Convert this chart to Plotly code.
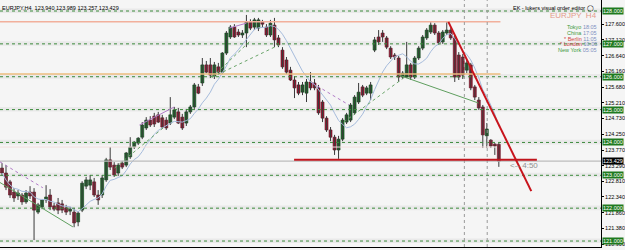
import plotly.graph_objects as go
import pandas as pd

header = "EURJPY,H4  123.940 123.989 123.257 123.429"

opens = [123.22,123.07,122.80,122.49,122.37,122.40,122.19,122.49,122.49,121.88,
         122.04,122.25,122.40,122.07,122.16,122.13,122.01,121.91,121.88,121.58,
         121.94,122.67,122.70,122.80,122.40,122.40,122.86,123.47,123.31,123.07,
         123.37,123.31,123.56,123.86,123.98,124.16,124.44,124.68,124.80,124.84,
         124.75,124.68,124.59,124.77,124.93,124.77,124.59,124.93,125.08,125.69,
         125.81,126.36,126.36,126.02,126.30,126.14,126.72,127.21,127.51,127.36,
         127.27,127.33,127.66,127.51,127.48,127.66,127.51,127.27,127.57,127.18,
         126.81,126.51,126.20,125.90,125.75,125.53,125.50,125.84,125.81,125.66,
         125.23,124.74,124.38,124.16,123.77,124.10,124.62,124.68,124.90,125.23,
         125.69,125.50,125.50,126.81,127.21,127.33,127.18,126.87,126.66,126.57,
         125.99,125.99,126.36,125.99,126.57,126.87,127.18,127.36,127.57,127.33,
         127.06,127.33,127.42,127.18,126.66,126.60,126.20,126.36,125.69,125.29,
         125.08,124.20,124.07,123.95,123.940]
highs = [123.37,123.31,122.86,122.61,122.55,122.46,122.55,122.67,122.61,122.16,
         122.28,122.70,122.58,122.16,122.31,122.25,122.10,122.04,122.01,121.91,
         122.82,122.95,123.01,122.92,122.55,123.01,123.53,123.86,123.40,123.37,
         123.44,123.71,124.16,124.04,124.16,124.62,124.77,124.80,124.90,124.93,
         124.84,124.77,125.38,125.08,125.05,124.87,125.02,125.14,125.81,125.78,
         126.57,126.48,126.57,126.45,126.42,126.75,127.39,127.57,127.60,127.45,
         127.42,127.88,127.75,127.79,127.79,127.73,127.60,127.73,127.79,127.27,
         126.90,126.60,126.30,126.02,125.84,125.84,125.93,126.14,125.93,125.75,
         125.29,124.80,124.47,124.23,124.20,124.74,124.90,125.20,125.44,125.81,
         125.75,125.72,125.84,127.21,127.42,127.42,127.24,126.93,126.72,126.63,
         126.17,127.06,126.42,126.63,126.93,127.27,127.48,127.66,127.63,127.39,
         127.42,127.66,127.48,127.27,126.75,126.69,126.51,126.42,125.75,125.38,
         125.14,124.59,124.10,123.98,123.989]
lows = [122.98,122.55,122.31,122.19,122.25,122.10,122.13,122.28,121.03,121.82,
        121.97,122.16,121.94,121.91,121.82,121.85,121.79,121.79,121.42,121.45,
        121.88,122.58,122.55,122.34,122.10,122.31,122.80,123.16,122.95,122.98,
        123.19,123.25,123.50,123.80,123.92,124.10,124.38,124.47,124.47,124.59,
        124.41,124.38,124.53,124.71,124.56,124.38,124.50,124.87,125.02,125.47,
        125.72,126.11,125.96,125.93,126.08,126.08,126.66,127.15,127.18,127.21,
        127.18,126.90,127.42,127.42,127.39,127.51,127.21,127.21,126.90,126.90,
        126.24,126.08,125.87,125.35,125.44,125.44,125.23,125.59,125.59,124.84,
        124.62,124.32,124.04,123.62,123.50,124.04,124.56,124.62,124.84,125.17,
        125.38,125.44,125.29,126.75,126.97,127.06,126.84,126.54,126.51,125.84,
        125.93,125.96,125.90,125.93,126.51,126.81,127.12,127.30,127.27,126.97,
        127.00,127.27,127.12,125.84,125.90,125.93,126.11,125.59,125.29,124.99,
        123.83,123.83,123.83,123.62,123.257]
closes = [123.07,122.64,122.40,122.31,122.46,122.19,122.46,122.37,121.94,122.10,
          122.25,122.34,122.04,121.97,121.94,121.94,121.88,121.97,121.55,121.85,
          122.76,122.86,122.86,122.40,122.25,122.92,123.47,123.25,123.01,123.31,
          123.25,123.68,123.86,124.01,124.13,124.53,124.68,124.53,124.56,124.62,
          124.47,124.44,124.84,124.99,124.59,124.44,124.93,125.08,125.75,125.50,
          126.36,126.14,126.05,126.36,126.14,126.72,127.33,127.51,127.21,127.27,
          127.33,127.66,127.48,127.73,127.73,127.60,127.27,127.63,127.12,126.97,
          126.30,126.14,125.90,125.66,125.50,125.75,125.84,125.66,125.66,124.90,
          124.74,124.38,124.16,123.77,124.10,124.68,124.84,125.14,125.38,125.53,
          125.44,125.66,125.75,127.12,127.06,127.21,126.90,126.60,126.60,125.99,
          126.11,126.36,125.99,126.57,126.87,127.21,127.42,127.57,127.33,127.03,
          127.36,127.42,127.18,125.99,125.99,126.05,126.42,125.66,125.38,125.05,
          124.23,124.41,123.89,123.89,123.429]

axis_ticks = [127.600,127.120,126.640,126.160,125.680,125.210,124.730,124.250,
              123.770,123.290,122.810,122.340,121.860,121.380,120.900]
round_levels = [128,127,126,125,124,123,122,121]
last_price = 123.429

sessions = [("Tokyo","18:05","#3f9a3f"),("China","17:05","#3f9a3f"),
            ("* Berlin","11:05","#d04040"),("* London","10:05","#d04040"),
            ("New York","05:05","#3f9a3f")]

n = len(closes)
idx = list(range(n))
ma = pd.Series(closes).rolling(8, min_periods=1).mean()

fig = go.Figure()

# wicks
wx, wy = [], []
for i in idx:
    wx += [i, i, None]
    wy += [lows[i], highs[i], None]
fig.add_trace(go.Scatter(x=wx, y=wy, mode="lines", line=dict(color="#3a3a3a", width=1),
                         hoverinfo="skip"))

for up in (True, False):
    xs, base, hgt = [], [], []
    for i in idx:
        if (closes[i] >= opens[i]) == up:
            xs.append(i)
            base.append(min(opens[i], closes[i]))
            hgt.append(max(abs(closes[i]-opens[i]), 0.03))
    fig.add_trace(go.Bar(x=xs, y=hgt, base=base, width=0.74,
                         marker=dict(color="#1f6b2c" if up else "#9b1d36",
                                     line=dict(color="#0c3a14" if up else "#5a0c1c", width=0.6))))

fig.add_trace(go.Scatter(x=idx, y=ma, mode="lines", line=dict(color="#a6bcdc", width=1),
                         hoverinfo="skip"))

shapes = []
for lv in round_levels:
    shapes.append(dict(type="rect", xref="paper", x0=0, x1=1, y0=lv-0.06, y1=lv+0.08,
                       fillcolor="#e9e9e9", line=dict(width=0), layer="below"))
    shapes.append(dict(type="line", xref="paper", x0=0, x1=1, y0=lv, y1=lv,
                       line=dict(color="#3b8a3b", width=1, dash="dot")))

# horizontal level lines
shapes.append(dict(type="line", x0=-0.5, x1=124.4, y0=127.67, y1=127.67,
                   line=dict(color="#f2b09c", width=1.5)))
shapes.append(dict(type="line", x0=-0.5, x1=124.4, y0=126.08, y1=126.08,
                   line=dict(color="#ecbd7e", width=1.5)))
shapes.append(dict(type="line", x0=-0.5, x1=123.4, y0=123.86, y1=123.86,
                   line=dict(color="#f3dede", width=1)))
shapes.append(dict(type="line", xref="paper", x0=0, x1=1, y0=last_price, y1=last_price,
                   line=dict(color="#bcbcbc", width=1.2)))
# vertical dotted
for vx in (115.4, 121.1):
    shapes.append(dict(type="line", yref="paper", x0=vx, x1=vx, y0=0, y1=1,
                       line=dict(color="#9a9a9a", width=1, dash="dot")))
# trend lines
green_solid = [((-0.5,122.78),(17.7,121.43)), ((99.0,126.05),(118.9,125.20))]
for (a,b) in green_solid:
    shapes.append(dict(type="line", x0=a[0], y0=a[1], x1=b[0], y1=b[1],
                       line=dict(color="#5f9f5f", width=1)))
green_dot = [((28.1,123.22),(40.5,124.47)), ((52.5,125.99),(61.7,127.06)),
             ((52.5,125.99),(69.2,126.97)), ((85.3,124.62),(100.2,125.96))]
for (a,b) in green_dot:
    shapes.append(dict(type="line", x0=a[0], y0=a[1], x1=b[0], y1=b[1],
                       line=dict(color="#6aa56a", width=1, dash="dot")))
purple = [((-0.5,123.41),(10.2,122.62),"dot"), ((34.3,124.53),(43.0,125.08),"solid"),
          ((56.7,127.48),(61.0,127.63),"solid"), ((77.4,125.81),(86.6,125.14),"dot")]
for (a,b,d) in purple:
    shapes.append(dict(type="line", x0=a[0], y0=a[1], x1=b[0], y1=b[1],
                       line=dict(color="#b27cc8", width=1, dash=d)))
# red lines
shapes.append(dict(type="line", x0=72.9, x1=133.5, y0=123.47, y1=123.47,
                   line=dict(color="#c0141c", width=2)))
shapes.append(dict(type="line", x0=111.4, y0=127.67, x1=132.1, y1=122.52,
                   line=dict(color="#c8141c", width=2)))

ann = []
for lv in round_levels:
    ann.append(dict(xref="paper", x=1, xanchor="left", xshift=1, y=lv, yref="y",
                    text=f"{lv:.3f}", showarrow=False, bgcolor="#1f7a1f", borderpad=0,
                    font=dict(color="white", size=5.5, family="Liberation Sans")))
ann.append(dict(xref="paper", x=1, xanchor="left", xshift=1, y=last_price, yref="y",
                text=f"{last_price:.3f}", showarrow=False, bgcolor="#000000", borderpad=0,
                font=dict(color="white", size=5.5, family="Liberation Sans")))
ann.append(dict(xref="paper", yref="paper", x=0, y=1, xanchor="left", yanchor="top", yshift=-3,
                text=header, showarrow=False,
                font=dict(color="#000", size=5.5, family="Liberation Sans")))
ann.append(dict(xref="paper", yref="paper", x=0.992, y=1, xanchor="right", yanchor="top", yshift=-3,
                text="EK - lukers visual order editor ◯", showarrow=False,
                font=dict(color="#000", size=5.5, family="Liberation Sans")))
ann.append(dict(xref="paper", yref="paper", x=0.996, y=1, xanchor="right", yanchor="top", yshift=-9,
                text="EURJPY  H4", showarrow=False,
                font=dict(color="#e49a8c", size=8, family="Liberation Sans")))
for k, (city, t, col) in enumerate(sessions):
    ann.append(dict(xref="paper", yref="paper", x=0.997, y=1, xanchor="right", yanchor="top",
                    yshift=-22 - 5.8*k,
                    text=f"<span style='color:{col}'>{city}</span> <span style='color:#7f8fbf'>{t}</span>",
                    showarrow=False, font=dict(size=5.5, family="Liberation Sans")))
ann.append(dict(x=126.4, y=123.31, xanchor="left", text="<-- 4:50", showarrow=False,
                font=dict(color="#909090", size=8, family="Liberation Sans")))

fig.update_layout(
    width=625, height=250, margin=dict(l=0, r=22, t=0, b=3),
    paper_bgcolor="#f5f5f5", plot_bgcolor="#f5f5f5",
    showlegend=False, barmode="overlay", shapes=shapes, annotations=ann,
    xaxis=dict(range=[-0.5, 149.5], showticklabels=False, showgrid=False, zeroline=False,
               showline=True, linecolor="#000", fixedrange=True),
    yaxis=dict(side="right", range=[120.818, 128.335], tickvals=axis_ticks,
               ticktext=[f"{v:.3f}" for v in axis_ticks], ticks="outside", ticklen=2,
               tickcolor="#000", showline=True, linecolor="#000", showgrid=False,
               zeroline=False, tickfont=dict(size=5.5, color="#000", family="Liberation Sans"),
               fixedrange=True),
)

fig.write_html("out.html")
